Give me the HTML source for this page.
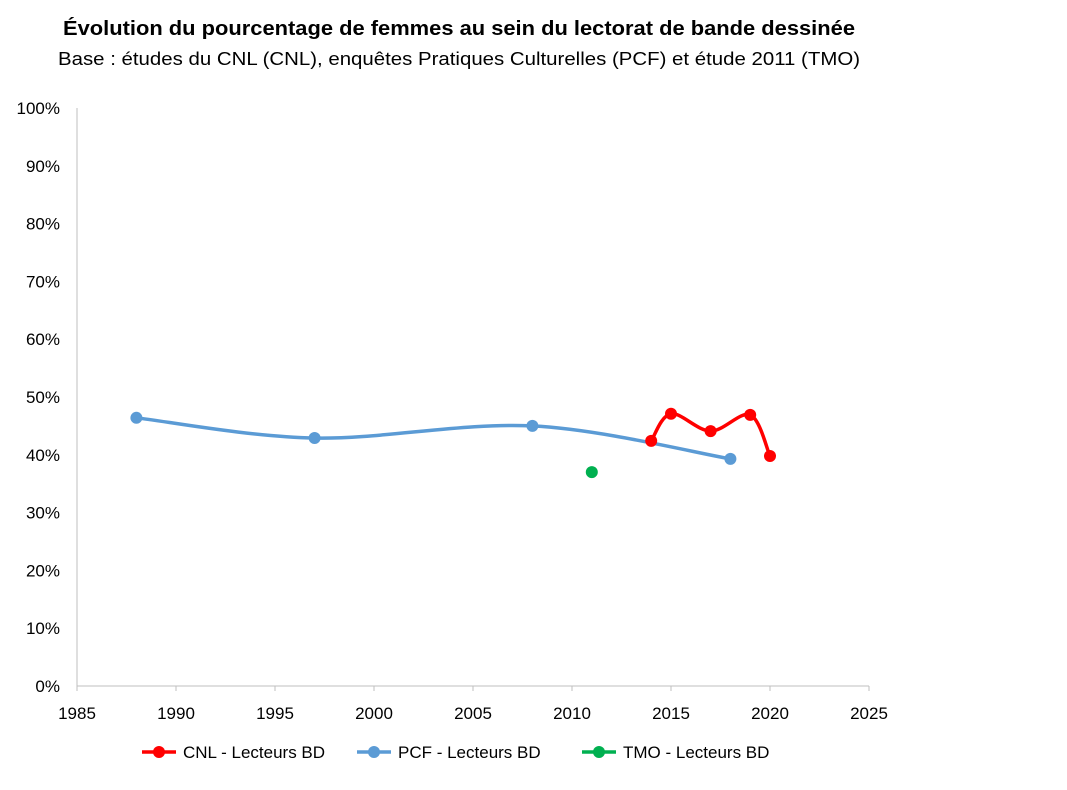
<!DOCTYPE html>
<html><head><meta charset="utf-8"><style>
body{margin:0;background:#fff;width:1067px;height:785px;overflow:hidden;font-family:"Liberation Sans",sans-serif}
</style></head><body>
<svg width="1067" height="785" font-family="Liberation Sans, sans-serif">
<text x="63" y="35" textLength="792" lengthAdjust="spacingAndGlyphs" font-size="20" font-weight="bold" fill="#000">Évolution du pourcentage de femmes au sein du lectorat de bande dessinée</text>
<text x="58" y="65" textLength="802" lengthAdjust="spacingAndGlyphs" font-size="18" fill="#000">Base : études du CNL (CNL), enquêtes Pratiques Culturelles (PCF) et étude 2011 (TMO)</text>
<g id="axes"></g>
<g id="series"></g>
<g id="legend"></g>
</svg>
<script>
const xTicks=[1985,1990,1995,2000,2005,2010,2015,2020,2025];
const yTicks=[0,10,20,30,40,50,60,70,80,90,100];
const cnlYears=[2014,2015,2017,2019,2020];
const cnlValues=[42.4,47.1,44.1,46.9,39.8];
const pcfYears=[1988,1997,2008,2018];
const pcfValues=[46.4,42.9,45.0,39.3];
const tmoYears=[2011];
const tmoValues=[37.0];
const NS="http://www.w3.org/2000/svg";
const X0=77,X1=869,Y0=686,Y1=108;
const sx=v=>X0+(v-1985)/(40)*(X1-X0);
const sy=v=>Y0-v/100*(Y0-Y1);
function mk(t,a,p){const e=document.createElementNS(NS,t);for(const k in a)e.setAttribute(k,a[k]);p.appendChild(e);return e;}
const axes=document.getElementById('axes');
const ya=mk('line',{x1:X0,y1:Y1,x2:X0,y2:Y0,stroke:'#bfbfbf','stroke-width':1},axes);


const xa=mk('line',{x1:X0,y1:Y0,x2:X1,y2:Y0,stroke:'#bfbfbf','stroke-width':1},axes);


yTicks.forEach(v=>{const t=mk('text',{x:60,y:sy(v)+6,'text-anchor':'end','font-size':17,fill:'#000'},axes);t.textContent=v+'%';

});
xTicks.forEach(v=>{const t=mk('text',{x:sx(v),y:719,'text-anchor':'middle','font-size':17,fill:'#000'},axes);t.textContent=v;


mk('line',{x1:sx(v),y1:Y0,x2:sx(v),y2:Y0+5,stroke:'#bfbfbf'},axes);});
function smooth(pts){let d='M'+pts[0][0]+','+pts[0][1];for(let i=0;i<pts.length-1;i++){const p0=pts[i-1]||pts[i],p1=pts[i],p2=pts[i+1],p3=pts[i+2]||p2;
const c1=[p1[0]+(p2[0]-p0[0])/6,p1[1]+(p2[1]-p0[1])/6],c2=[p2[0]-(p3[0]-p1[0])/6,p2[1]-(p3[1]-p1[1])/6];
d+=' C'+c1+' '+c2+' '+p2;}return d;}
const ser=document.getElementById('series');
function series(name,years,vals,color,line){const g=mk('g',{},ser);


const pts=years.map((y,i)=>[sx(y),sy(vals[i])]);
if(line&&pts.length>1){const p=mk('path',{d:smooth(pts),fill:'none',stroke:color,'stroke-width':3.5,'stroke-linecap':'round'},g);

}
pts.forEach(p=>{const c=mk('circle',{cx:p[0],cy:p[1],r:6,fill:color},g);

});}
series('pcf',pcfYears,pcfValues,'#5b9bd5',true);
series('cnl',cnlYears,cnlValues,'#ff0000',true);
series('tmo',tmoYears,tmoValues,'#00b050',true);
const lg=document.getElementById('legend');
[['cnl','CNL - Lecteurs BD','#ff0000',142],['pcf','PCF - Lecteurs BD','#5b9bd5',357],['tmo','TMO - Lecteurs BD','#00b050',582]].forEach(([n,l,c,x])=>{
const g=mk('g',{},lg);


mk('line',{x1:x,y1:752,x2:x+34,y2:752,stroke:c,'stroke-width':3.5},g);
mk('circle',{cx:x+17,cy:752,r:6,fill:c},g);
const t=mk('text',{x:x+41,y:758,'font-size':17,fill:'#000'},g);t.textContent=l;});
</script>
</body></html>
